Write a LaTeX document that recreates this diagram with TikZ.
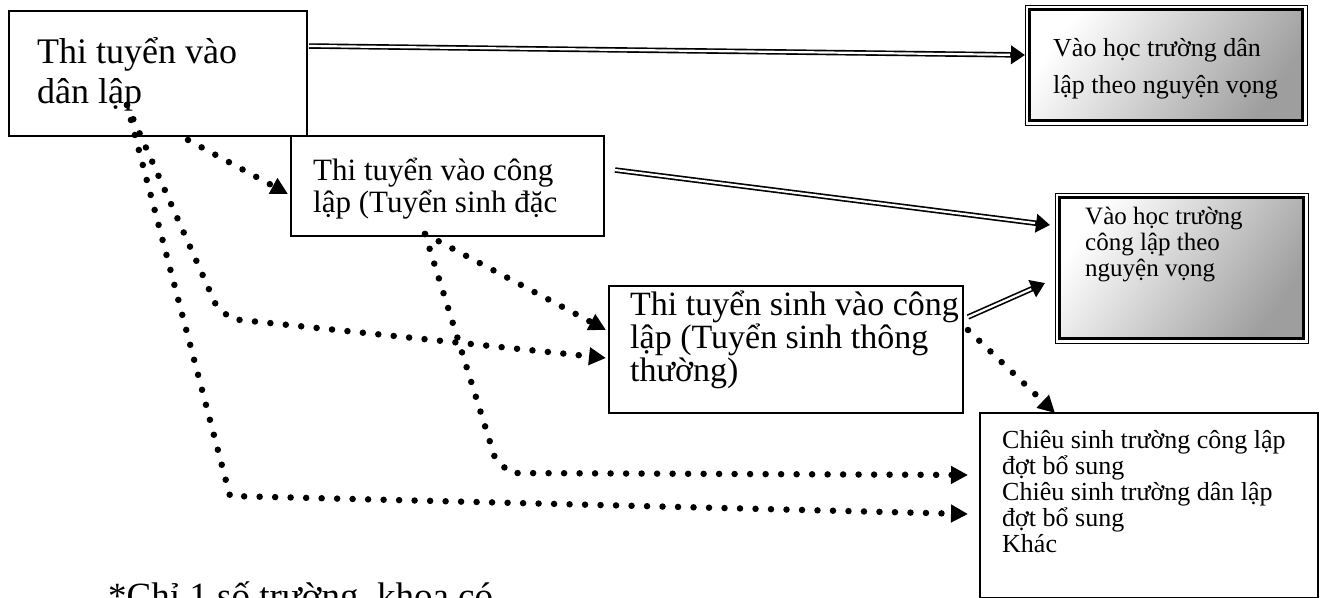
\documentclass[tikz,border=0pt]{standalone}
\usepackage{fontspec}
\setmainfont{Liberation Serif}
\usetikzlibrary{arrows.meta,calc}
\newcommand\dblarr[2]{%
  \draw[line width=5.5pt, -{Triangle[length=14pt,width=18pt]}] (#1) -- (#2);
  \draw[white, line width=2.2pt, shorten >=15pt] (#1) -- (#2);}
\begin{document}
\begin{tikzpicture}[x=1pt,y=-1pt,
  box/.style={draw, line width=1.8pt, fill=white, inner sep=0pt, outer sep=0pt, anchor=north west},
  gbox/.style={draw, line width=1pt, inner sep=0pt, outer sep=0pt, anchor=north west},
  gfill/.style={top color=white, bottom color=black!38, shading angle=55},
  dotline/.style={line width=6.5pt, line cap=round, dash pattern=on 0pt off 15.5pt, -{Triangle[length=17pt,width=17pt]}},
  txt/.style={anchor=base west, inner sep=0pt},
  fA/.style={font=\fontsize{36pt}{40pt}\selectfont},
  fB/.style={font=\fontsize{31pt}{34pt}\selectfont},
  fC/.style={font=\fontsize{34pt}{37pt}\selectfont},
  fD/.style={font=\fontsize{26pt}{30pt}\selectfont},
  fE/.style={font=\fontsize{25pt}{28pt}\selectfont},
  fF/.style={font=\fontsize{26pt}{30pt}\selectfont},
  ]
\useasboundingbox[fill=white] (0,0) rectangle (1321,597);

% boxes
\node[box, minimum width=298pt, minimum height=125pt] (A) at (9,11) {};
\node[box, minimum width=313pt, minimum height=100pt] (B) at (291,136) {};
\node[box, minimum width=354pt, minimum height=127pt] (C) at (609,286) {};
\node[box, minimum width=338pt, minimum height=185pt] (F) at (980,413) {};

% shaded double-border boxes
\node[gbox, minimum width=282pt, minimum height=120pt] (D) at (1025,5) {};
\shade[gfill]
  ($(D.north west)+(4.5,4.5)$) rectangle ($(D.south east)+(-4.5,-4.5)$);
\draw[line width=2.2pt] ($(D.north west)+(4.5,4.5)$) rectangle ($(D.south east)+(-4.5,-4.5)$);

\node[gbox, minimum width=253pt, minimum height=150pt] (E) at (1055,193) {};
\shade[gfill]
  ($(E.north west)+(4.5,4.5)$) rectangle ($(E.south east)+(-4.5,-4.5)$);
\draw[line width=2.2pt] ($(E.north west)+(4.5,4.5)$) rectangle ($(E.south east)+(-4.5,-4.5)$);

% texts
\node[txt, fA] (tA1) at (37,63) {Thi tuyển vào};
\node[txt, fA] (tA2) at (37,103) {dân lập};

\node[txt, fB] (tB1) at (313,180) {Thi tuyển vào công};
\node[txt, fB] (tB2) at (313,212) {lập (Tuyển sinh đặc};

\begin{scope}
  \clip (609,286) rectangle (963,403);
  \node[txt, fC] (tC1) at (630,315) {Thi tuyển sinh vào công};
  \node[txt, fC] (tC2) at (630,348) {lập (Tuyển sinh thông};
  \node[txt, fC] (tC3) at (630,381) {thường)};
\end{scope}

\node[txt, fD] (tD1) at (1053,56) {Vào học trường dân};
\node[txt, fD] (tD2) at (1053,93) {lập theo nguyện vọng};

\node[txt, fE] (tE1) at (1085,224) {Vào học trường};
\node[txt, fE] (tE2) at (1085,250) {công lập theo};
\node[txt, fE] (tE3) at (1085,276) {nguyện vọng};

\node[txt, fF] (tF1) at (1002,448) {Chiêu sinh trường công lập};
\node[txt, fF] (tF2) at (1002,474) {đợt bổ sung};
\node[txt, fF] (tF3) at (1002,500) {Chiêu sinh trường dân lập};
\node[txt, fF] (tF4) at (1002,526) {đợt bổ sung};
\node[txt, fF] (tF5) at (1002,552) {Khác};

\node[txt, font=\fontsize{37pt}{42pt}\selectfont] (note) at (108,608) {*Chỉ 1 số trường, khoa có};

% connector end points
\coordinate (a1) at ($(A.north east)+(2,35)$);
\coordinate (d1) at ($(D.north west)+(0,50)$);
\coordinate (b1) at ($(B.north east)+(11,34)$);
\coordinate (e1) at ($(E.north west)+(-5,32)$);
\coordinate (c1) at ($(C.north east)+(5,31)$);
\coordinate (e2) at ($(E.north west)+(-10,90)$);

\coordinate (aP) at (127,105);
\coordinate (aB) at (188,140);
\coordinate (bIn) at ($(B.west)+(-3,8)$);
\coordinate (bP) at (425,234);
\coordinate (cIn1) at (606,330);
\coordinate (cIn2) at (606,358);
\coordinate (fIn1) at ($(F.north west)+(-12,62)$);
\coordinate (fIn2) at ($(F.north west)+(-12,101)$);
\coordinate (cP) at (968,330);
\coordinate (fTop) at (1055,413);

% double arrows
\dblarr{a1}{d1}
\dblarr{b1}{e1}
\dblarr{c1}{e2}

% dotted arrows
\draw[dotline] (aB) -- (bIn);
\draw[dotline] (aP) -- (216,305) -- (231,319) -- (cIn2);
\draw[dotline] (aP) -- (230,496) -- (fIn2);
\draw[dotline] (bP) -- (cIn1);
\draw[dotline] (bP) -- (495,458) -- (510,473) -- (fIn1);
\draw[dotline] (cP) -- (fTop);
\end{tikzpicture}
\end{document}
